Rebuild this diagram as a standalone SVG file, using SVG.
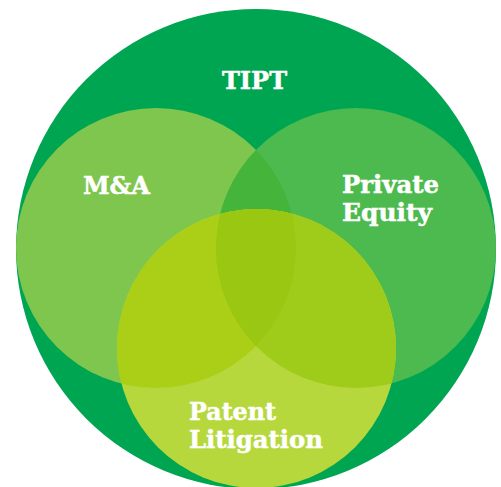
<svg xmlns="http://www.w3.org/2000/svg" width="501" height="487" viewBox="0 0 501 487">
<style>
.lbl{font-family:"DejaVu Serif","Liberation Serif",serif;font-weight:bold;font-size:24px;fill:#ffffff;stroke:#ffffff;stroke-width:0.5}
</style>
<defs>
<clipPath id="cMA"><circle cx="156" cy="248" r="140"/></clipPath>
<clipPath id="cPE"><circle cx="356" cy="248" r="140"/></clipPath>
<clipPath id="cPL"><circle cx="256.5" cy="348.5" r="139.5"/></clipPath>
</defs>
<g id="tipt">
<circle cx="256" cy="249" r="240" fill="#00A551"/>
<text class="lbl" x="222" y="89" textLength="65" lengthAdjust="spacingAndGlyphs">TIPT</text>
</g>
<g id="ma">
<circle cx="156" cy="248" r="140" fill="#7FC64E"/>
</g>
<g id="pe">
<circle cx="356" cy="248" r="140" fill="#4CBA4E"/>
<circle cx="156" cy="248" r="140" fill="#45B43A" clip-path="url(#cPE)"/>
</g>
<g id="pl">
<circle cx="256.5" cy="348.5" r="139.5" fill="#B6D83C"/>
<g clip-path="url(#cPL)">
<circle cx="156" cy="248" r="140" fill="#ABCF17"/>
<circle cx="356" cy="248" r="140" fill="#9FCC1A"/>
<g clip-path="url(#cMA)"><circle cx="356" cy="248" r="140" fill="#99C712"/></g>
</g>
</g>
<g id="labels">
<text class="lbl" x="83" y="194" textLength="67" lengthAdjust="spacingAndGlyphs">M&amp;A</text>
<text class="lbl"><tspan x="342" y="193" textLength="97" lengthAdjust="spacingAndGlyphs">Private</tspan><tspan x="342" y="221" textLength="90" lengthAdjust="spacingAndGlyphs">Equity</tspan></text>
<text class="lbl"><tspan x="189" y="420" textLength="87" lengthAdjust="spacingAndGlyphs">Patent</tspan><tspan x="189" y="448" textLength="134" lengthAdjust="spacingAndGlyphs">Litigation</tspan></text>
</g>
<g id="connectors"/>
</svg>
